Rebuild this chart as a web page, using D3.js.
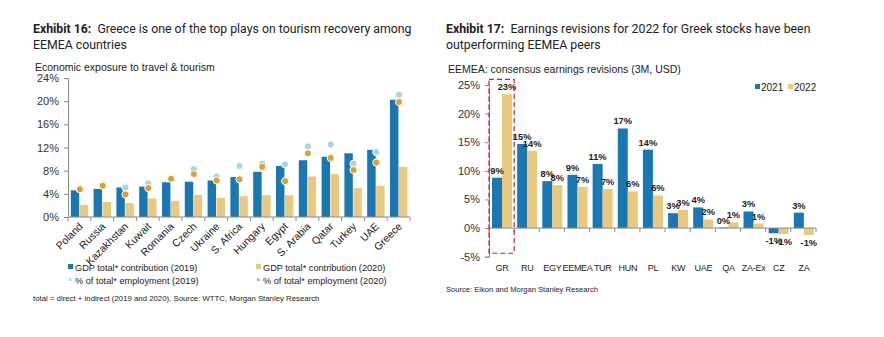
<!DOCTYPE html>
<html>
<head>
<meta charset="utf-8">
<script src="https://cdn.jsdelivr.net/npm/d3@7"></script>
<style>
  body { margin: 0; background: #fff; }
  text { font-family: "Liberation Sans", Arial, sans-serif; fill: #222; }
  .title { font-family: Roboto, "Liberation Sans", sans-serif; font-size: 12.3px; fill: #222; }
  .axis path, .axis line { stroke: #8a8a8a; }
  .axis text { font-size: 11px; fill: #333; }
</style>
</head>
<body>
<div id="chart"></div>
<script>
// ---------- Exhibit 16 data ----------
const countries = ['Poland', 'Russia', 'Kazakhstan', 'Kuwait', 'Romania', 'Czech', 'Ukraine', 'S. Africa',
  'Hungary', 'Egypt', 'S. Arabia', 'Qatar', 'Turkey', 'UAE', 'Greece'];
const gdp2019 = [4.6, 4.85, 5.1, 5.25, 6.0, 6.1, 6.3, 6.9, 7.8, 8.8, 9.8, 10.4, 11.0, 11.6, 20.25];
const gdp2020 = [2.1, 2.6, 2.4, 3.2, 2.8, 3.8, 3.3, 3.6, 3.75, 3.75, 7.0, 7.4, 5.0, 5.4, 8.65];
const emp2019 = [4.8, 5.4, 5.1, 5.8, 6.6, 8.25, 7.0, 8.8, 9.2, 9.1, 12.2, 12.5, 9.2, 11.2, 21.1];
const emp2020 = [4.8, 5.4, 3.9, 5.0, 6.6, 7.4, 6.3, 6.5, 8.65, 6.2, 11.0, 10.2, 8.1, 9.4, 19.85];
const leftTicks = [0, 4, 8, 12, 16, 20, 24];

// ---------- Exhibit 17 data ----------
const markets = ['GR', 'RU', 'EGY', 'EEMEA', 'TUR', 'HUN', 'PL', 'KW', 'UAE', 'QA', 'ZA-Ex', 'CZ', 'ZA'];
const rev2021 = [8.8, 14.7, 8.2, 9.3, 11.2, 17.4, 13.7, 2.6, 3.6, 0.1, 2.9, -0.9, 2.7];
const rev2022 = [23.4, 13.5, 7.5, 7.2, 6.8, 6.4, 5.7, 3.2, 1.5, 1.0, 0.8, -1.05, -1.2];
const rightTicks = [-5, 0, 5, 10, 15, 20, 25];

const blue = '#1878b4';
const tan = '#e8c97e';
const lightBlue = '#a9d4e6';
const orange = '#d9a42c';

const width = 884;
const height = 337;

const svg = d3.select('#chart').append('svg')
  .attr('width', width)
  .attr('height', height);

// ***************** Exhibit 16 *****************
const t16 = svg.append('text').attr('class', 'title').attr('x', 33).attr('y', 33);
t16.append('tspan').attr('font-weight', 'bold').text('Exhibit 16:');
t16.append('tspan').text('\u00a0 Greece is one of the top plays on tourism recovery among');
svg.append('text').attr('class', 'title').attr('x', 33).attr('y', 49).text('EEMEA countries');
svg.append('text').attr('x', 35).attr('y', 71).attr('font-size', 10.5).text('Economic exposure to travel & tourism');

const lx = d3.scaleBand().domain(countries).range([68, 410]);
const lsub = d3.scaleBand().domain(['a', 'b']).range([2.8, 20.2]).paddingInner(0.06);
const ly = d3.scaleLinear().domain([0, 24]).range([217, 78]);

svg.append('g').attr('class', 'axis')
  .attr('transform', 'translate(68,0)')
  .call(d3.axisLeft(ly).tickValues(leftTicks).tickSize(4).tickPadding(5).tickFormat((d) => d + '%'))
  .call((g) => g.selectAll('text').attr('font-size', 12));

const left = svg.append('g');
left.selectAll('.b19').data(countries).join('rect')
  .attr('x', (d) => lx(d) + lsub('a'))
  .attr('width', lsub.bandwidth())
  .attr('y', (d, i) => ly(gdp2019[i]))
  .attr('height', (d, i) => ly(0) - ly(gdp2019[i]))
  .attr('fill', blue);
left.selectAll('.b20').data(countries).join('rect')
  .attr('x', (d) => lx(d) + lsub('b'))
  .attr('width', lsub.bandwidth())
  .attr('y', (d, i) => ly(gdp2020[i]))
  .attr('height', (d, i) => ly(0) - ly(gdp2020[i]))
  .attr('fill', tan);

// x axis of left chart (ticks at band edges)
const lxAxis = svg.append('g').attr('class', 'axis');
lxAxis.append('line')
  .attr('x1', lx.range()[0]).attr('x2', lx.range()[1])
  .attr('y1', ly(0)).attr('y2', ly(0));
lxAxis.selectAll('.tk').data(countries.concat(['_end'])).join('line')
  .attr('x1', (d, i) => lx.range()[0] + i * lx.step())
  .attr('x2', (d, i) => lx.range()[0] + i * lx.step())
  .attr('y1', ly(0)).attr('y2', ly(0) + 4);
svg.append('g').selectAll('text').data(countries).join('text')
  .attr('transform', (d) => `translate(${lx(d) + lx.bandwidth() / 2 + 4},${ly(0) + 10}) rotate(-45)`)
  .attr('text-anchor', 'end')
  .attr('font-size', 10.5)
  .text((d) => d);

// employment dots
left.selectAll('.e19').data(countries).join('circle')
  .attr('cx', (d) => lx(d) + lx.bandwidth() / 2 + 0.5)
  .attr('cy', (d, i) => ly(emp2019[i]))
  .attr('r', 3.6)
  .attr('fill', lightBlue)
  .attr('stroke', '#fff')
  .attr('stroke-width', 1);
left.selectAll('.e20').data(countries).join('circle')
  .attr('cx', (d) => lx(d) + lx.bandwidth() / 2 + 0.5)
  .attr('cy', (d, i) => ly(emp2020[i]))
  .attr('r', 3.6)
  .attr('fill', orange)
  .attr('stroke', '#fff')
  .attr('stroke-width', 1);

// legend left
const legL = [
  { x: 68, y: 267, type: 'rect', c: blue, t: 'GDP total* contribution (2019)' },
  { x: 256, y: 267, type: 'rect', c: tan, t: 'GDP total* contribution (2020)' },
  { x: 68, y: 280, type: 'dot', c: lightBlue, t: '% of total* employment (2019)' },
  { x: 256, y: 280, type: 'dot', c: orange, t: '% of total* employment (2020)' },
];
const lg = svg.append('g');
legL.forEach((d) => {
  if (d.type === 'rect') {
    lg.append('rect').attr('x', d.x).attr('y', d.y - 3).attr('width', 5).attr('height', 5).attr('fill', d.c);
  } else {
    lg.append('rect').attr('x', d.x + 1).attr('y', d.y - 1.5).attr('width', 2.5).attr('height', 2.5).attr('fill', d.c);
  }
  lg.append('text').attr('x', d.x + 7).attr('y', d.y + 3.5).attr('font-size', 9.2).attr('fill', '#333').text(d.t);
});
svg.append('text').attr('x', 33).attr('y', 301).attr('font-size', 7.8).attr('fill', '#333')
  .text('total = direct + indirect (2019 and 2020), Source: WTTC, Morgan Stanley Research');

// ***************** Exhibit 17 *****************
const t17 = svg.append('text').attr('class', 'title').attr('x', 446).attr('y', 33);
t17.append('tspan').attr('font-weight', 'bold').text('Exhibit 17:');
t17.append('tspan').text('\u00a0 Earnings revisions for 2022 for Greek stocks have been');
svg.append('text').attr('class', 'title').attr('x', 446).attr('y', 49).text('outperforming EEMEA peers');
svg.append('text').attr('x', 448).attr('y', 73).attr('font-size', 10.5).text('EEMEA: consensus earnings revisions (3M, USD)');

const rx = d3.scaleBand().domain(markets).range([489, 816]);
const rsub = d3.scaleBand().domain(['a', 'b']).range([3, 23]);
const ry = d3.scaleLinear().domain([-5, 25]).range([256.7, 85]);

svg.append('g').attr('class', 'axis')
  .attr('transform', 'translate(489,0)')
  .call(d3.axisLeft(ry).tickValues(rightTicks).tickSize(4).tickPadding(5).tickFormat((d) => d + '%'))
  .call((g) => g.selectAll('text').attr('font-size', 11.5));

const right = svg.append('g');
right.selectAll('.r21').data(markets).join('rect')
  .attr('x', (d) => rx(d) + rsub('a'))
  .attr('width', rsub.bandwidth())
  .attr('y', (d, i) => Math.min(ry(rev2021[i]), ry(0)))
  .attr('height', (d, i) => Math.abs(ry(0) - ry(rev2021[i])))
  .attr('fill', blue);
right.selectAll('.r22').data(markets).join('rect')
  .attr('x', (d) => rx(d) + rsub('b'))
  .attr('width', rsub.bandwidth())
  .attr('y', (d, i) => Math.min(ry(rev2022[i]), ry(0)))
  .attr('height', (d, i) => Math.abs(ry(0) - ry(rev2022[i])))
  .attr('fill', tan);

// zero line + ticks
const rxAxis = svg.append('g').attr('class', 'axis');
rxAxis.append('line')
  .attr('x1', rx.range()[0]).attr('x2', rx.range()[1])
  .attr('y1', ry(0)).attr('y2', ry(0));
rxAxis.selectAll('.tk').data(markets.concat(['_end'])).join('line')
  .attr('x1', (d, i) => rx.range()[0] + i * rx.step())
  .attr('x2', (d, i) => rx.range()[0] + i * rx.step())
  .attr('y1', ry(0)).attr('y2', ry(0) + 4);

svg.append('g').selectAll('text').data(markets).join('text')
  .attr('x', (d) => rx(d) + rx.bandwidth() / 2 + 0.5)
  .attr('y', ry(-5) + 14)
  .attr('text-anchor', 'middle')
  .attr('font-size', 9)
  .attr('letter-spacing', -0.3)
  .attr('fill', '#333')
  .text((d) => d);

// value labels
const labelFor = (v) => `${Math.round(v)}%`;
const addLabels = (vals, key) => {
  right.selectAll('.l' + key).data(markets).join('text')
    .attr('x', (d) => rx(d) + rsub(key) + rsub.bandwidth() / 2)
    .attr('y', (d, i) => (vals[i] >= 0 ? ry(vals[i]) - 4 : ry(vals[i]) + 11))
    .attr('text-anchor', 'middle')
    .attr('font-size', 9.3)
    .attr('font-weight', 'bold')
    .attr('fill', '#333')
    .text((d, i) => labelFor(vals[i]));
};
addLabels(rev2021, 'a');
addLabels(rev2022, 'b');

// dashed highlight around GR
svg.append('rect')
  .attr('x', rx('GR'))
  .attr('y', ry(26))
  .attr('width', rx.bandwidth())
  .attr('height', ry(-4.4) - ry(26))
  .attr('fill', 'none')
  .attr('stroke', '#c8202e')
  .attr('stroke-width', 1.2)
  .attr('stroke-dasharray', '5,3');

// legend right
const legR = [{ x: 755, c: blue, t: '2021' }, { x: 788, c: tan, t: '2022' }];
legR.forEach((d) => {
  svg.append('rect').attr('x', d.x).attr('y', 84).attr('width', 5).attr('height', 5).attr('fill', d.c);
  svg.append('text').attr('x', d.x + 6).attr('y', 91).attr('font-size', 10).attr('fill', '#333').text(d.t);
});

svg.append('text').attr('x', 446).attr('y', 292).attr('font-size', 7.6).attr('fill', '#333')
  .text('Source: Eikon and Morgan Stanley Research');
</script>
</body>
</html>
